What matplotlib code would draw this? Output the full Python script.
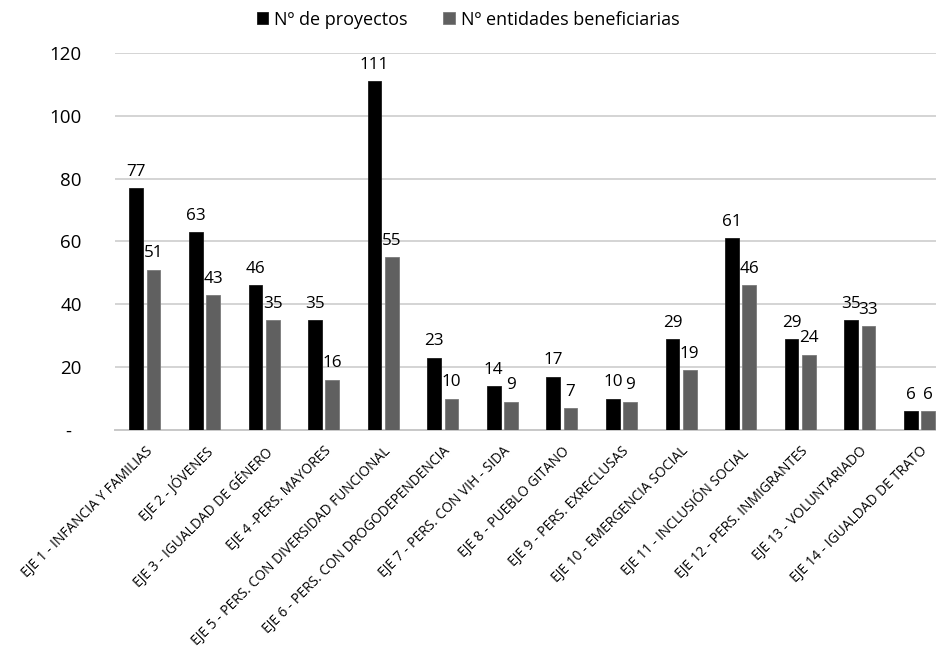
import matplotlib
matplotlib.use("Agg")
import matplotlib.pyplot as plt
import numpy as np

categories = [
    "EJE 1 - INFANCIA Y FAMILIAS",
    "EJE 2 - JÓVENES",
    "EJE 3 - IGUALDAD DE GÉNERO",
    "EJE 4 -PERS. MAYORES",
    "EJE 5 - PERS. CON DIVERSIDAD FUNCIONAL",
    "EJE 6 - PERS. CON DROGODEPENDENCIA",
    "EJE 7 - PERS. CON VIH - SIDA",
    "EJE 8 - PUEBLO GITANO",
    "EJE 9 - PERS. EXRECLUSAS",
    "EJE 10 - EMERGENCIA SOCIAL",
    "EJE 11 - INCLUSIÓN SOCIAL",
    "EJE 12 - PERS. INMIGRANTES",
    "EJE 13 - VOLUNTARIADO",
    "EJE 14 - IGUALDAD DE TRATO",
]
proyectos = [77, 63, 46, 35, 111, 23, 14, 17, 10, 29, 61, 29, 35, 6]
entidades = [51, 43, 35, 16, 55, 10, 9, 7, 9, 19, 46, 24, 33, 6]
series_names = ["Nº de proyectos", "Nº entidades beneficiarias"]
y_ticks = [0, 20, 40, 60, 80, 100, 120]
y_tick_labels = ["-  ", "20", "40", "60", "80", "100", "120"]

plt.rcParams["font.family"] = ["Open Sans", "DejaVu Sans"]

fig = plt.figure(figsize=(9.36, 6.51), dpi=100)
# plot area runs slightly past the right edge of the canvas
ax = fig.add_axes([0.123, 0.3395, 0.891, 0.5791])

x = np.arange(len(categories))
w = 0.23
off = 0.145
b1 = ax.bar(x - off, proyectos, width=w, color="#000000", edgecolor="#1a1a1a", linewidth=0.6,
            label=series_names[0], zorder=3)
b2 = ax.bar(x + off, entidades, width=w, color="#606060", edgecolor="#7a7a7a", linewidth=0.6,
            label=series_names[1], zorder=3)

for bars, vals in ((b1, proyectos), (b2, entidades)):
    for rect, v in zip(bars, vals):
        ax.annotate(str(v), (rect.get_x() + rect.get_width() / 2, v),
                    xytext=(0, 6), textcoords="offset points",
                    ha="center", va="bottom", fontsize=12.3, color="#000000")

ax.set_xlim(-0.5, len(categories) - 0.5)
ax.set_ylim(0, 120)
ax.set_yticks(y_ticks)
ax.set_yticklabels(y_tick_labels, fontsize=13.5)
ax.tick_params(axis="y", length=0, pad=24)
ax.grid(axis="y", color="#d4d4d4", linewidth=1.4, zorder=0)
ax.set_axisbelow(True)

ax.set_xticks(x)
ax.set_xticklabels(categories, rotation=45, ha="right", va="top",
                   rotation_mode="anchor", fontsize=9.9)
ax.tick_params(axis="x", length=0, pad=10)

for s in ("top", "right", "left"):
    ax.spines[s].set_visible(False)
ax.spines["bottom"].set_color("#c8c8c8")
ax.spines["bottom"].set_linewidth(1.4)

fig.legend(handles=[b1, b2], labels=series_names, loc="center",
           bbox_to_anchor=(0.5, 0.97), ncol=2, frameon=False, fontsize=13,
           handlelength=0.65, handleheight=0.65, handletextpad=0.3, columnspacing=2.0)

fig.savefig("out.png", dpi=100)
